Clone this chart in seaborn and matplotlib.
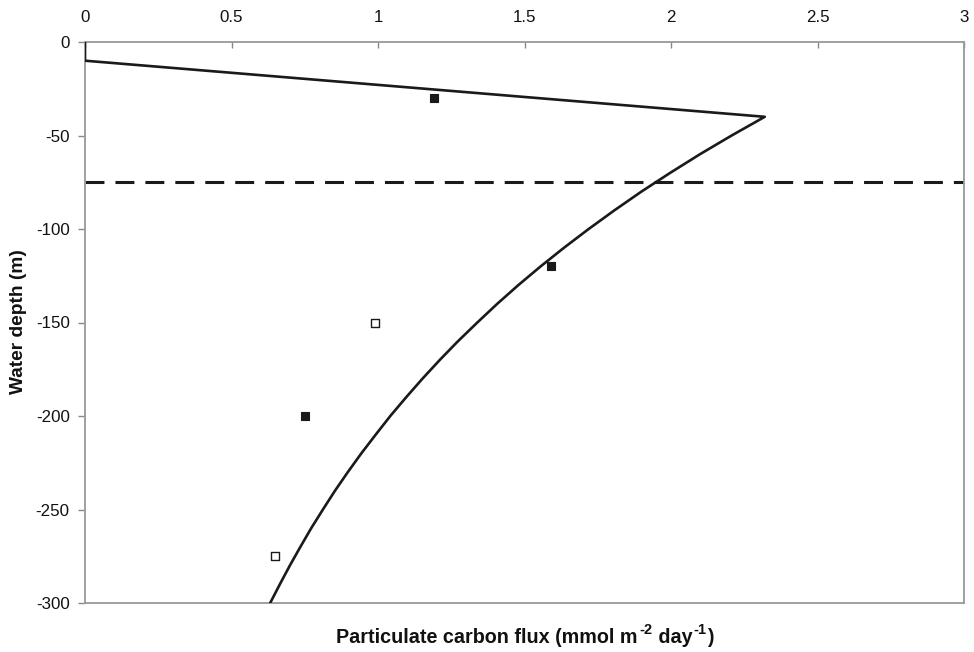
import numpy as np
import pandas as pd
import matplotlib
matplotlib.use("Agg")
import matplotlib.pyplot as plt
import seaborn as sns

# Modelled flux profile (flux, depth)
profile_flux = [0.0, 0.0, 2.320, 2.207, 2.099, 1.997, 1.899, 1.807, 1.719,
                1.635, 1.555, 1.479, 1.407, 1.339, 1.273, 1.211, 1.152,
                1.096, 1.042, 0.992, 0.943, 0.897, 0.853, 0.812, 0.772,
                0.735, 0.699, 0.665, 0.632]
profile_depth = [0, -10, -40, -50, -60, -70, -80, -90, -100,
                 -110, -120, -130, -140, -150, -160, -170, -180,
                 -190, -200, -210, -220, -230, -240, -250, -260,
                 -270, -280, -290, -300]

# Trap measurements
filled_flux = [1.19, 1.59, 0.75]
filled_depth = [-30, -120, -200]
open_flux = [0.99, 0.65]
open_depth = [-150, -275]

# Mixed layer depth
mld = -75

x_ticks = [0, 0.5, 1, 1.5, 2, 2.5, 3]
x_tick_labels = ["0", "0.5", "1", "1.5", "2", "2.5", "3"]
y_ticks = [0, -50, -100, -150, -200, -250, -300]

sns.set_style("white")
plt.rcParams["font.family"] = ["Liberation Sans", "DejaVu Sans"]
plt.rcParams["axes.unicode_minus"] = False

fig = plt.figure(figsize=(9.74, 6.52), dpi=100)
ax = fig.add_axes([85 / 974, 1 - 603 / 652, 879 / 974, 561 / 652])

prof = pd.DataFrame({"flux": profile_flux, "depth": profile_depth})
sns.lineplot(data=prof, x="flux", y="depth", sort=False, estimator=None,
             color="#1a1a1a", linewidth=1.9, ax=ax, zorder=3)

ax.axhline(mld, color="#1a1a1a", linewidth=2.2, linestyle=(0, (6.2, 3.6)),
           zorder=2)

sns.scatterplot(x=filled_flux, y=filled_depth, marker="s", s=40,
                color="#1a1a1a", edgecolor="#1a1a1a", linewidth=0.8,
                ax=ax, zorder=4)
sns.scatterplot(x=open_flux, y=open_depth, marker="s", s=40,
                facecolor="white", edgecolor="#1a1a1a", linewidth=1.0,
                ax=ax, zorder=4)

ax.set_xlim(0, 3)
ax.set_ylim(-300, 0)
ax.set_xticks(x_ticks)
ax.set_xticklabels(x_tick_labels)
ax.set_yticks(y_ticks)
ax.xaxis.tick_top()
ax.tick_params(axis="x", direction="in", length=4, width=1, color="#888888",
               labelsize=12.2, pad=12, top=True, bottom=False,
               labelcolor="#111111")
ax.tick_params(axis="y", direction="out", length=5, width=1, color="#888888",
               labelsize=12.2, pad=6, left=True, labelcolor="#111111")

for side in ["top", "bottom", "left", "right"]:
    ax.spines[side].set_visible(True)
    ax.spines[side].set_color("#999999")
    ax.spines[side].set_linewidth(1.3)

ax.set_xlabel("")
ax.set_ylabel("")
fig.text(19 / 974, 1 - 322 / 652, "Water depth (m)", rotation=90,
         ha="center", va="center", fontsize=13.8, fontweight="bold",
         color="#111111")

# x-axis title built from pieces so the superscripts keep plain hyphens
# (text, size, rise in px, gap before in px)
pieces = [("Particulate carbon flux (mmol m", 14.2, 0, 0),
          ("-2", 10.5, 9, 2),
          (" day", 14.2, 0, 0),
          ("-1", 10.5, 9, 1),
          (")", 14.2, 0, 1)]
renderer = fig.canvas.get_renderer()
placed = []
total = 0
for s, size, rise, gap in pieces:
    t = fig.text(0, 0, s, fontsize=size, fontweight="bold", color="#111111",
                 ha="left", va="baseline")
    w = t.get_window_extent(renderer).width
    placed.append((t, rise, gap, w))
    total += gap + w
x_px = 525 - total / 2
base_px = 652 - 643
for t, rise, gap, w in placed:
    x_px += gap
    t.set_position((x_px / 974, (base_px + rise) / 652))
    x_px += w

fig.savefig("out.png", dpi=100)
